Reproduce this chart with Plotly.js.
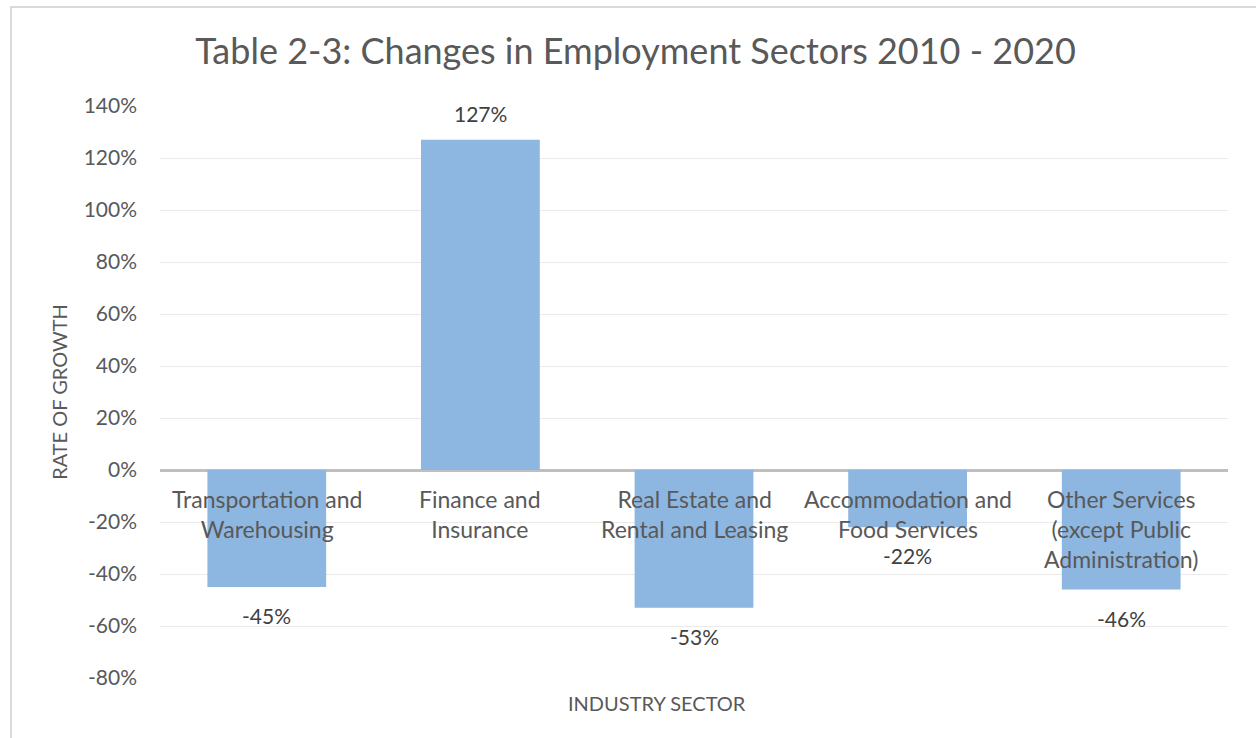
<!DOCTYPE html>
<html>
<head>
<meta charset="utf-8">
<script src="https://cdn.plot.ly/plotly-3.0.1.min.js"></script>
<style>
  html, body { margin: 0; padding: 0; background: #ffffff; }
  #chart { position: absolute; left: 0; top: 0; width: 1256px; height: 738px; }
  #frame { position: absolute; left: 10px; top: 6px; width: 1260px; height: 760px;
           border: 2px solid #d9d9d9; pointer-events: none; box-sizing: border-box; }
</style>
</head>
<body>
<div id="chart"></div>
<div id="frame"></div>
<script>
// ---- data ----
const categories = [
  "Transportation and<br>Warehousing",
  "Finance and<br>Insurance",
  "Real Estate and<br>Rental and Leasing",
  "Accommodation and<br>Food Services",
  "Other Services<br>(except Public<br>Administration)"
];
const growthRates = [-45, 127, -53, -22, -46];
const yTickValues = [-80, -60, -40, -20, 0, 20, 40, 60, 80, 100, 120, 140];

const FONT = "Lato, 'Open Sans', sans-serif";
const catIdx = categories.map((_, i) => i);

const trace = {
  type: "bar",
  x: catIdx,
  y: growthRates,
  marker: { color: "#8db6e0" },
  width: 0.556,
  hoverinfo: "skip"
};

const annotations = [];
// category labels just below the zero line
categories.forEach((c, i) => {
  annotations.push({
    x: i, y: 0, xref: "x", yref: "y",
    text: c, showarrow: false,
    yanchor: "top", xanchor: "center",
    yshift: -13,
    font: { family: FONT, size: 23, color: "#595959" }
  });
});
// data labels
growthRates.forEach((v, i) => {
  annotations.push({
    x: i, y: v, xref: "x", yref: "y",
    text: v + "%", showarrow: false,
    yanchor: v >= 0 ? "bottom" : "top", xanchor: "center",
    yshift: v >= 0 ? 12 : -14,
    font: { family: FONT, size: 21, color: "#404040" }
  });
});
// x-axis title
annotations.push({
  x: 0.465, y: 703, xref: "paper", yref: "paper",
  text: "INDUSTRY SECTOR", showarrow: false,
  xanchor: "center", yanchor: "middle",
  font: { family: FONT, size: 20, color: "#595959" }
});
annotations[annotations.length - 1].y = -(703 - 678) / 572;

const layout = {
  width: 1256, height: 738,
  margin: { l: 160, r: 28, t: 106, b: 60 },
  paper_bgcolor: "rgba(0,0,0,0)",
  plot_bgcolor: "#ffffff",
  showlegend: false,
  title: {
    text: "Table 2-3: Changes in Employment Sectors 2010 - 2020",
    x: 0.506, xref: "container", xanchor: "center",
    y: 0.930, yref: "container", yanchor: "middle",
    font: { family: FONT, size: 36, color: "#595959" }
  },
  xaxis: {
    range: [-0.5, 4.5],
    showticklabels: false,
    showgrid: false, zeroline: false, showline: false, ticks: "",
    fixedrange: true
  },
  yaxis: {
    range: [-80, 140],
    tickvals: yTickValues,
    ticktext: yTickValues.map(v => v + "%"),
    tickfont: { family: FONT, size: 21, color: "#595959" },
    ticklabelstandoff: 22,
    showgrid: true, gridcolor: "#eaeaea", gridwidth: 1,
    zeroline: true, zerolinecolor: "#bfbfbf", zerolinewidth: 3,
    showline: false, ticks: "",
    fixedrange: true,
    title: { text: "RATE OF GROWTH", standoff: 10,
             font: { family: FONT, size: 20, color: "#595959" } }
  },
  annotations: annotations,
  bargap: 0.444
};

Plotly.newPlot("chart", [trace], layout, { displayModeBar: false, staticPlot: true });
</script>
</body>
</html>
